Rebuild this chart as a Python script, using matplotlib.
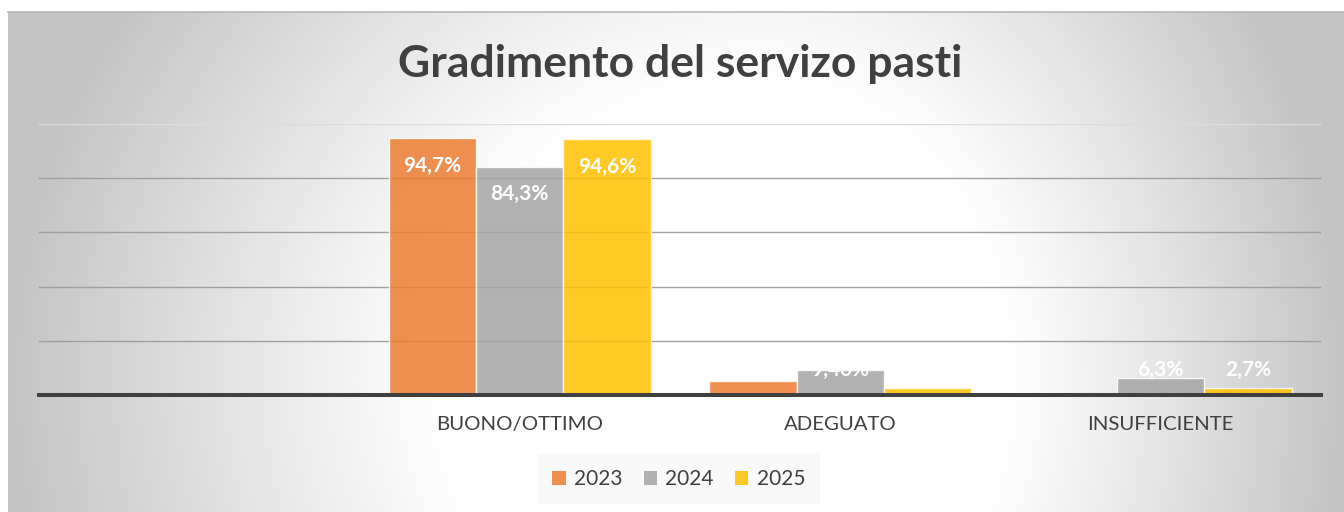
import numpy as np
import matplotlib.pyplot as plt
from matplotlib.patches import Patch

categories = ["", "BUONO/OTTIMO", "ADEGUATO", "INSUFFICIENTE"]
years = ["2023", "2024", "2025"]
values_2023 = [np.nan, 94.7, 5.3, 0.0]
values_2024 = [np.nan, 84.3, 9.4, 6.3]
values_2025 = [np.nan, 94.6, 2.7, 2.7]
labels_2023 = ["", "94,7%", "5,3%", ""]
labels_2024 = ["", "84,3%", "9,40%", "6,3%"]
labels_2025 = ["", "94,6%", "2,7%", "2,7%"]

colors = ["#ED7D31", "#A5A5A5", "#FFC000"]
text_col = "#404040"

plt.rcParams['font.family'] = ['Lato', 'DejaVu Sans']

W, H = 1344, 512
fig = plt.figure(figsize=(W / 100, H / 100), dpi=100)
fig.patch.set_facecolor("white")

# radial gradient background of the chart area (white in the middle, grey edges)
bg = fig.add_axes([8 / W, 0, 1 - 8 / W, 1 - 12 / H])
yy, xx = np.mgrid[12:512, 8:1344]
rx = np.where(xx < 760, 750, 580)
d = np.sqrt(((xx - 760) / rx) ** 2 + ((yy - 380) / 700) ** 2)
t = np.clip((d - 0.42) / 0.58, 0, 1)
shade = 1 - 0.23 * t ** 1.1
bg.imshow(np.dstack([shade] * 3), aspect="auto", extent=[0, 1, 0, 1])
bg.axis("off")
fig.add_artist(plt.Line2D([8 / W, 1], [1 - 12 / H] * 2, color="#b8b8b8", lw=1.2))

ax = fig.add_axes([39 / W, 1 - 395 / H, (1321 - 39) / W, (395 - 124) / H])
ax.patch.set_alpha(0)
ax.set_xlim(-0.5, 3.5)
ax.set_ylim(0, 100)

for g in [20, 40, 60, 80]:
    ax.axhline(g, color="#a0a0a0", lw=1.0, zorder=1)
ax.axhline(100, color="#dcdcdc", lw=1.0, zorder=1)

x = np.arange(len(categories))
bw = 0.272
series = [values_2023, values_2024, values_2025]
labels = [labels_2023, labels_2024, labels_2025]
for i, (vals, labs) in enumerate(zip(series, labels)):
    xs = x + (i - 1) * bw
    ax.bar(xs, vals, width=bw, color=colors[i], alpha=0.85,
           edgecolor=(1, 1, 1, 0.5), linewidth=1.0, zorder=2)
    for xi, v, lab in zip(xs, vals, labs):
        if not lab:
            continue
        ax.text(xi, max(v - 10.3, 9.2), lab, ha="center", va="center",
                color="white", fontsize=15, fontweight="bold", zorder=3)

ax.axhline(0, color="#404040", lw=2.9, zorder=4, clip_on=False)
for s in ax.spines.values():
    s.set_visible(False)
ax.set_yticks([])
ax.set_xticks(x)
ax.set_xticklabels(categories, fontsize=14.7, color=text_col)
ax.tick_params(axis="x", length=0, pad=15)

fig.text(0.506, 1 - 64 / H, "Gradimento del servizo pasti", ha="center", va="center",
         fontsize=32, fontweight="bold", color=text_col)

handles = [Patch(facecolor=c, alpha=0.85, edgecolor="none") for c in colors]
leg = fig.legend(handles, years, loc="center", bbox_to_anchor=(0.505, 1 - 479 / H),
                 ncol=3, frameon=True, fontsize=15, handlelength=0.65, handleheight=0.65,
                 handletextpad=0.4, columnspacing=1.0, labelcolor=text_col)
leg.get_frame().set_facecolor("#f7f7f7")
leg.get_frame().set_alpha(0.7)
leg.get_frame().set_edgecolor("none")
leg.get_frame().set_boxstyle("square", pad=0.3)

fig.savefig("out.png", dpi=100)
